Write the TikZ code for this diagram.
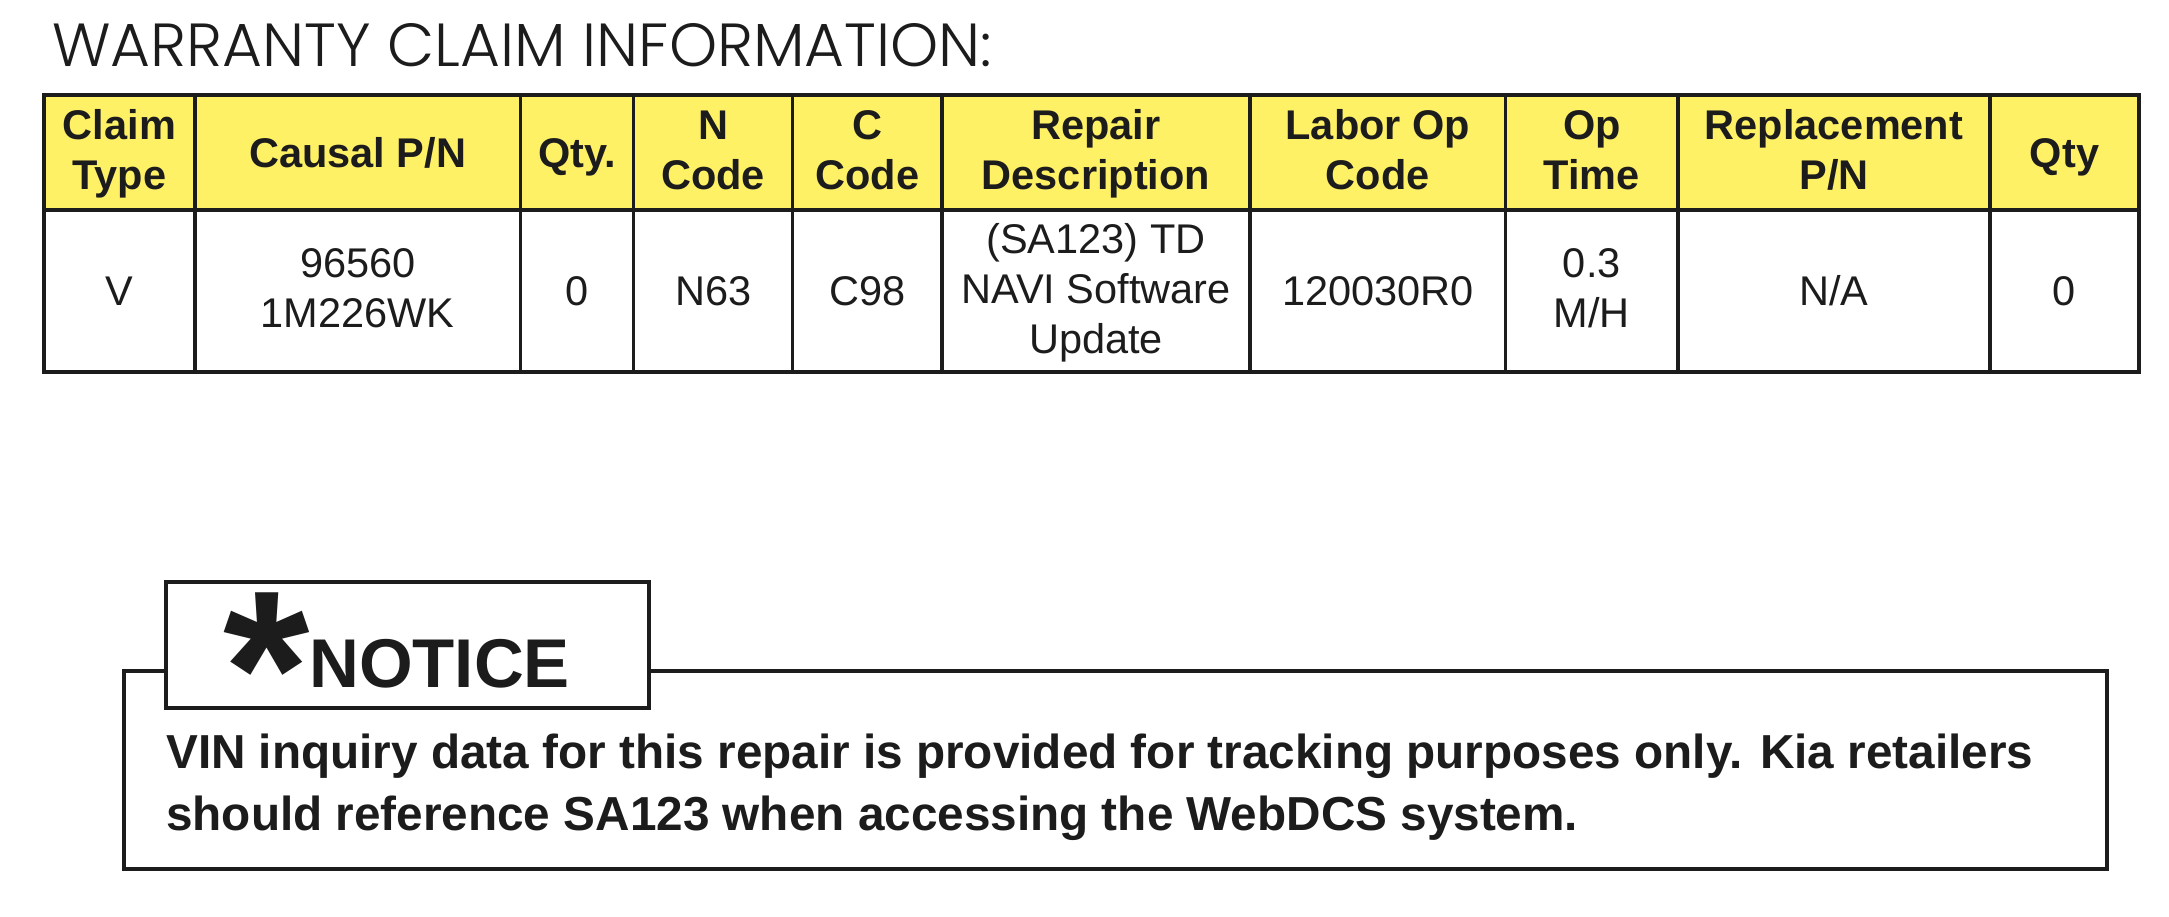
\documentclass[tikz,border=0pt]{standalone}
\usepackage{fontspec}
\setmainfont{Liberation Sans}
\IfFontExistsTF{Poppins Light}{\newfontfamily\titlefont{Poppins Light}}{\newfontfamily\titlefont{Poppins}}
\definecolor{hdr}{RGB}{255,241,102}
\definecolor{ink}{RGB}{28,28,28}
\begin{document}
\begin{tikzpicture}[x=1pt,y=-1pt,
  hd/.style={font=\bfseries\fontsize{41.5}{50}\selectfont, align=center, inner sep=0pt, text=ink,
    execute at begin node=\strut, execute at end node=\strut},
  bd/.style={font=\fontsize{41.5}{50}\selectfont, align=center, inner sep=0pt, text=ink,
    execute at begin node=\strut, execute at end node=\strut},
  rule/.style={draw=ink, line width=3.5pt},
  frame/.style={draw=ink, line width=4pt},
  ntxt/.style={font=\bfseries\fontsize{47.7}{62}\selectfont, text=ink, inner sep=0pt, anchor=base west}]
\useasboundingbox (0,0) rectangle (2169,917);
\fill[white] (0,0) rectangle (2169,917);
% title
\node[anchor=south west, inner sep=0pt, text=ink] (title) at (52,67)
  {\resizebox{940pt}{43pt}{\titlefont WARRANTY CLAIM INFORMATION:}};
% table
\fill[hdr] (44,95) rectangle (2139,210);
\draw[rule] (44,210) -- (2139,210);
\foreach \cx in {195,520.5,633.5,792.7,942,1250,1505.6,1678,1990}
  \draw[rule] (\cx,95) -- (\cx,372);
\draw[frame] (44,95) rectangle (2139,372);
% header
\def\hy{157.4}
\def\by{295.9}
\node[hd] (h1) at (119.5,\hy) {Claim\\Type};
\node[hd] (h2) at (357.75,\hy) {Causal P/N};
\node[hd] (h3) at (577,\hy) {Qty.};
\node[hd] (h4) at (713.1,\hy) {N\\Code};
\node[hd] (h5) at (867.35,\hy) {C\\Code};
\node[hd] (h6) at (1096,\hy) {Repair\\Description};
\node[hd] (h7) at (1377.8,\hy) {Labor Op\\Code};
\node[hd] (h8) at (1591.8,\hy) {Op\\Time};
\node[hd] (h9) at (1834,\hy) {Replacement\\P/N};
\node[hd] (h10) at (2064.5,\hy) {Qty};
% body
\node[bd] (b1) at (119.5,\by) {V};
\node[bd] (b2) at (357.75,\by) {96560\\1M226WK};
\node[bd] (b3) at (577,\by) {0};
\node[bd] (b4) at (713.1,\by) {N63};
\node[bd] (b5) at (867.35,\by) {C98};
\node[bd] (b6) at (1096,\by) {(SA123) TD\\NAVI Software\\Update};
\node[bd] (b7) at (1377.8,\by) {120030R0};
\node[bd] (b8) at (1591.8,\by) {0.3\\M/H};
\node[bd] (b9) at (1834,\by) {N/A};
\node[bd] (b10) at (2064.5,\by) {0};
% notice
\draw[draw=ink, line width=3.5pt] (124,671) rectangle (2107,869);
\draw[draw=ink, line width=3.5pt, fill=white] (166,582) rectangle (649,708);
\node[anchor=base west, inner sep=0pt, text=ink] (star) at (223,745)
  {\bfseries\fontsize{222}{222}\selectfont *};
\node[anchor=base west, inner sep=0pt, text=ink, font=\bfseries\fontsize{69}{69}\selectfont] (notice) at (309,687) {NOTICE};
\node[ntxt] (n1) at (166,768) {VIN inquiry data for this repair is provided for tracking purposes only. Kia retailers};
\node[ntxt] (n2) at (166,830) {should reference SA123 when accessing the WebDCS system.};
\end{tikzpicture}
\end{document}
